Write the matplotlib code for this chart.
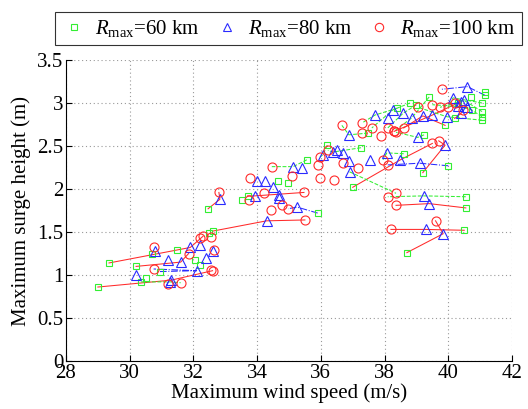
import numpy as np
import matplotlib
matplotlib.use('Agg')
import matplotlib.pyplot as plt
from matplotlib.lines import Line2D

nan = np.nan

# each storm: wind/surge for Rmax = 60, 80, 100 km, and the style of the link line
wind60 = [29.0, 29.35, 30.2, 30.35, 30.7, 30.95, 31.48, 32.05, 30.5, 32.2, 32.5,
          32.46, 32.6, 33.7, 33.53, 34.65, 34.97, 35.56, 35.9, nan, nan, nan,
          36.2, 37.26, 37.0, 39.2, 40.0, 38.6, 37.48, 39.24, nan, nan, nan,
          40.55, 40.55, 40.5, 38.7,
          38.4, 38.8, 39.0, 39.4, 39.9, 40.3, 41.06, 41.06, 41.06, 41.06, 41.15, 41.15,
          40.7, 40.75, 40.2, nan, nan, nan]
surge60 = [0.86, 1.14, 1.10, 0.92, 1.24, 1.04, 1.29, 1.18, 0.96, 1.12, 1.49,
           1.77, 1.51, 1.92, 1.87, 2.09, 2.07, 2.34, 1.72, nan, nan, nan,
           2.51, 2.48, 2.02, 2.19, 2.27, 2.41, 2.65, 2.63, nan, nan, nan,
           1.91, 1.78, 1.52, 1.26,
           2.94, 3.00, 2.98, 3.07, 2.74, 3.00, 2.80, 2.84, 2.90, 3.00, 3.09, 3.13,
           3.07, 2.92, 2.82, nan, nan, nan]
wind80 = [31.3, 31.9, 31.6, 31.27, 30.8, 32.1, 31.2, 32.6, 30.2, 32.4, 32.2,
          32.83, 34.3, 33.93, 34.7, 34.0, 34.25, 35.13, 35.25, 35.4, 34.5, 34.7,
          36.07, 36.38, 38.5, 39.9, 39.1, 38.07, 36.88, 39.04, 36.7, 36.88, 36.9,
          39.24, 39.4, 39.3, 39.84,
          37.7, 38.26, 38.58, 38.86, 39.2, 39.5, 39.96, 40.6, 40.5, 40.15, 40.6, 38.1,
          40.4, 40.3, 40.4, 36.5, 37.54, nan]
surge80 = [0.94, 1.32, 1.15, 0.92, 1.28, 1.05, 1.18, 1.28, 1.00, 1.20, 1.35,
           1.88, 1.63, 1.92, 1.89, 2.09, 2.09, 2.26, 1.79, 2.24, 2.02, 1.93,
           2.40, 2.43, 2.34, 2.51, 2.30, 2.42, 2.63, 2.60, 2.42, 2.33, 2.20,
           1.92, 1.83, 1.53, 1.48,
           2.86, 2.92, 2.88, 2.83, 2.85, 2.86, 2.84, 2.95, 3.03, 3.06, 3.19, 2.82,
           3.01, 2.96, 2.88, 2.45, 2.34, nan]
wind100 = [32.6, 32.3, 31.85, 31.6, 30.75, 30.75, 32.55, 32.65, 31.2, 32.55, 32.2,
           32.8, 35.5, 35.47, 33.75, 33.78, 34.2, 34.46, 34.97, 35.1, 34.43, 34.78,
           35.97, 36.22, 39.5, 39.7, 38.1, 37.95, 36.66, 38.36, 36.7, 37.17, 38.36,
           38.1, 38.36, 38.2, 39.6,
           37.3, 37.6, 38.1, 38.3, 38.6, 38.3, 39.05, 39.5, 39.74, 39.99, 39.8, 37.9,
           37.3, 40.2, 40.45, 36.4, 35.97, 35.9]
surge100 = [1.05, 1.45, 1.25, 0.91, 1.33, 1.07, 1.44, 1.29, 0.90, 1.06, 1.43,
            1.96, 1.64, 1.96, 1.87, 2.13, 1.95, 2.26, 1.77, 2.15, 1.76, 1.81,
            2.37, 2.45, 2.53, 2.56, 2.28, 2.34, 2.74, 2.66, 2.30, 2.24, 1.95,
            1.91, 1.81, 1.53, 1.63,
            2.77, 2.71, 2.71, 2.67, 2.71, 2.67, 2.95, 2.98, 2.95, 2.95, 3.16, 2.62,
            2.65, 3.00, 2.92, 2.10, 2.13, 2.28]
link = ['r', 'r', 'r', 'g', '', 'b', '', '', '', '', '',
        'r', 'r', 'r', '', '', '', 'g', 'b', '', '', '',
        'g', 'g', 'r', 'r', 'b', 'g', 'g', 'g', '', '', 'g',
        'g', 'r', 'r', 'r',
        'g', 'g', 'g', 'g', 'r', 'r', 'g', 'g', 'g', 'g', 'b', '',
        '', 'g', 'r', '', '', '']

GREEN, BLUE, RED = '#33ee33', '#2a2aff', '#ff2a2a'
LINESTYLES = {'r': (RED, '-'), 'g': (GREEN, '--'), 'b': (BLUE, '-.')}

plt.rcParams['font.family'] = 'Liberation Serif'
plt.rcParams['mathtext.fontset'] = 'custom'
plt.rcParams['mathtext.rm'] = 'Liberation Serif'
plt.rcParams['mathtext.it'] = 'Liberation Serif:italic'

fig = plt.figure(figsize=(5.28, 4.09), dpi=100)
ax = fig.add_axes([66/528, 48/409, 446/528, 301/409])

for i, s in enumerate(link):
    if s:
        c, ls = LINESTYLES[s]
        xs = [w for w in (wind60[i], wind80[i], wind100[i]) if not np.isnan(w)]
        ys = [h for h in (surge60[i], surge80[i], surge100[i]) if not np.isnan(h)]
        ax.plot(xs, ys, color=c, linestyle=ls, linewidth=0.75, zorder=2)

ax.plot(wind60, surge60, 's', mfc='none', mec=GREEN, ms=5, mew=0.8, zorder=3)
ax.plot(wind80, surge80, '^', mfc='none', mec=BLUE, ms=6.5, mew=0.8, zorder=3)
ax.plot(wind100, surge100, 'o', mfc='none', mec=RED, ms=6.5, mew=0.8, zorder=3)

ax.set_xlim(28, 42)
ax.set_ylim(0, 3.5)
ax.set_xticks(np.arange(28, 43, 2))
ax.set_yticks(np.arange(0, 3.6, 0.5))
ax.set_yticklabels(['0', '0.5', '1', '1.5', '2', '2.5', '3', '3.5'])
ax.tick_params(direction='in', length=4, labelsize=15, pad=2)
ax.grid(True, linestyle=(0, (1, 2.5)), color='#999999', linewidth=0.8)
for side in ('top', 'right'):
    ax.spines[side].set_visible(False)
ax.set_xlabel('Maximum wind speed (m/s)', fontsize=15, labelpad=0)
ax.set_ylabel('Maximum surge height (m)', fontsize=15, labelpad=4)

handles = [Line2D([], [], marker='s', ls='none', mfc='none', mec=GREEN, ms=5, mew=0.8),
           Line2D([], [], marker='^', ls='none', mfc='none', mec=BLUE, ms=6, mew=0.8),
           Line2D([], [], marker='o', ls='none', mfc='none', mec=RED, ms=6, mew=0.8)]
labels = [r'$R_{\mathrm{max}}$=60 km', r'$R_{\mathrm{max}}$=80 km', r'$R_{\mathrm{max}}$=100 km']
leg = fig.legend(handles, labels, loc='center', bbox_to_anchor=(288.5/528, 1 - 28.5/409),
                 ncol=3, fontsize=15, frameon=True, fancybox=False, edgecolor='black',
                 handlelength=1.2, handletextpad=0.4, columnspacing=0.7, borderpad=0.3)
leg.get_frame().set_linewidth(0.8)

fig.savefig('out.png', dpi=100)
